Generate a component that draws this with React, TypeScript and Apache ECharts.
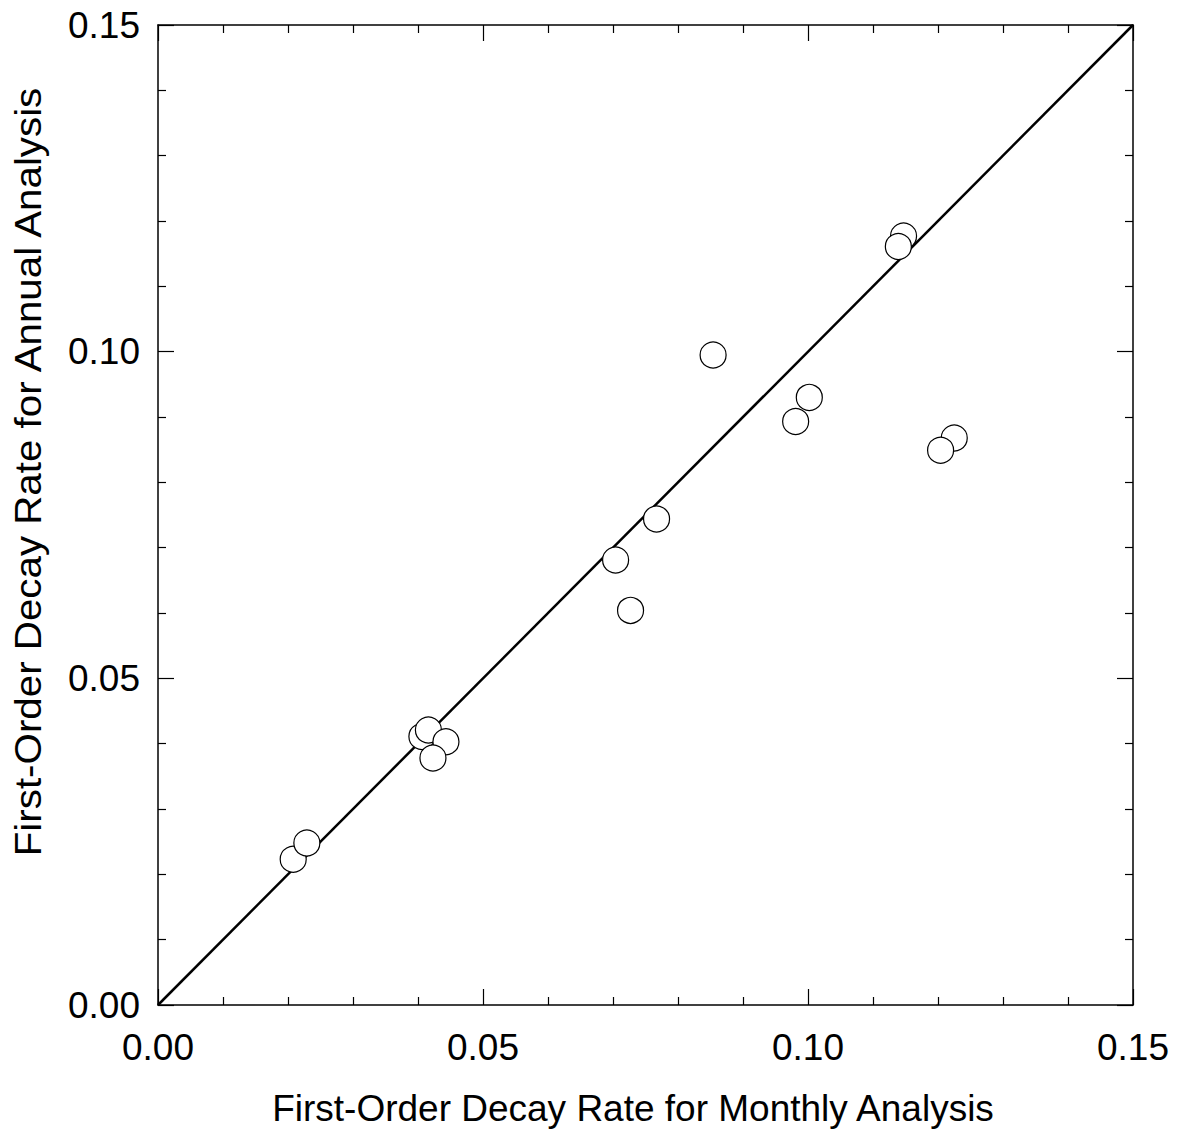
import React, { useEffect, useRef } from "react";
import * as echarts from "echarts";

const monthlyRates = [
  0.0208, 0.0229, 0.0406, 0.0416, 0.0443, 0.0423, 0.0854, 0.1002,
  0.0981, 0.0767, 0.0704, 0.0727, 0.1147, 0.1139, 0.1225, 0.1204,
];
const annualRates = [
  0.0223, 0.0248, 0.0411, 0.0421, 0.0403, 0.0378, 0.0995, 0.0930,
  0.0893, 0.0744, 0.0681, 0.0604, 0.1177, 0.1161, 0.0868, 0.0849,
];
const oneToOneLine = [
  [0, 0],
  [0.15, 0.15],
];
const axisMin = 0;
const axisMax = 0.15;
const axisInterval = 0.05;
const xTitle = "First-Order Decay Rate for Monthly Analysis";
const yTitle = "First-Order Decay Rate for Annual Analysis";

const FONT = "'Liberation Sans', Arial, Helvetica, sans-serif";

export default function App() {
  const ref = useRef<HTMLDivElement>(null);

  useEffect(() => {
    if (!ref.current) return;
    const chart = echarts.init(ref.current, null, { renderer: "svg" });

    const points = monthlyRates.map((x, i) => [x, annualRates[i]]);

    const baseAxis = (show: boolean) => ({
      type: "value" as const,
      min: axisMin,
      max: axisMax,
      interval: axisInterval,
      axisLine: { show: true, onZero: false, lineStyle: { color: "#000", width: 1.5 } },
      axisTick: { show: true, inside: true, length: 16, lineStyle: { color: "#000", width: 1.2 } },
      minorTick: { show: true, splitNumber: 5, length: 8, lineStyle: { color: "#000", width: 1.2 } },
      splitLine: { show: false },
      minorSplitLine: { show: false },
      axisLabel: {
        show,
        color: "#000",
        fontSize: 37,
        fontFamily: FONT,
        formatter: (v: number) => v.toFixed(2),
      },
    });

    chart.setOption({
      animation: false,
      backgroundColor: "#fff",
      grid: { left: 158, top: 25, width: 975, height: 980, containLabel: false },
      xAxis: [
        { ...baseAxis(true), position: "bottom", axisLabel: { ...baseAxis(true).axisLabel, margin: 24 } },
        { ...baseAxis(false), position: "top" },
      ],
      yAxis: [
        { ...baseAxis(true), position: "left", axisLabel: { ...baseAxis(true).axisLabel, margin: 18 } },
        { ...baseAxis(false), position: "right" },
      ],
      graphic: [
        {
          type: "text",
          x: 633,
          y: 1108,
          style: {
            text: xTitle,
            fontSize: 37,
            fontFamily: FONT,
            fill: "#000",
            align: "center",
            verticalAlign: "middle",
          },
        },
        {
          type: "text",
          x: 28,
          y: 472,
          rotation: Math.PI / 2,
          scaleX: 1.09,
          style: {
            text: yTitle,
            fontSize: 37,
            fontFamily: FONT,
            fill: "#000",
            align: "center",
            verticalAlign: "middle",
          },
        },
      ],
      series: [
        {
          type: "line",
          data: oneToOneLine,
          symbol: "none",
          lineStyle: { color: "#000", width: 2.5 },
          z: 1,
        },
        {
          type: "scatter",
          data: points,
          symbol: "circle",
          symbolSize: 26,
          itemStyle: { color: "#fff", borderColor: "#000", borderWidth: 1.2, opacity: 1 },
          z: 2,
        },
      ],
    });

    return () => chart.dispose();
  }, []);

  return (
    <div
      ref={ref}
      style={{ position: "fixed", left: 0, top: 0, width: 1179, height: 1134, background: "#fff" }}
    />
  );
}
